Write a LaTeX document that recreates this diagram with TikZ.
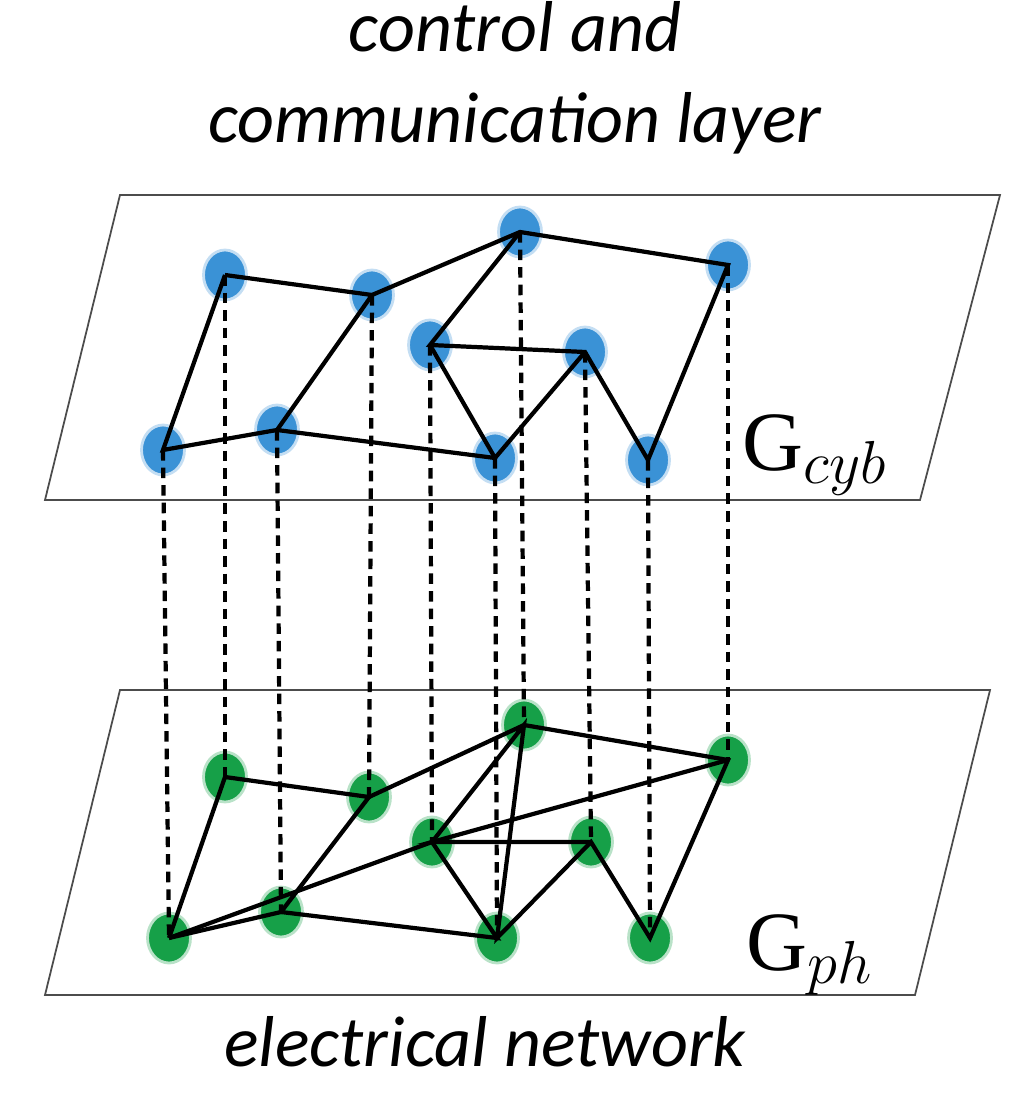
\documentclass[tikz,border=0pt]{standalone}
\usepackage{fontspec}
\setmainfont{Carlito}
\newfontfamily\gfont{Liberation Serif}
\definecolor{cybblue}{RGB}{58,146,214}
\definecolor{phgreen}{RGB}{22,160,72}
\begin{document}
\begin{tikzpicture}[x=0.1mm,y=-0.1mm,
	cyb/.style={ellipse,fill=cybblue,minimum width=4.3mm,minimum height=5mm,inner sep=0,draw=cybblue!30,line width=0.8pt},
	ph/.style={ellipse,fill=phgreen,minimum width=4.3mm,minimum height=5mm,inner sep=0,draw=phgreen!30,line width=0.8pt},
	link/.style={line width=1.2pt},
	tie/.style={line width=1.2pt,dash pattern=on 3pt off 2pt},
	layer/.style={draw=black!70,line width=0.5pt}]
\usetikzlibrary{shapes.geometric}
\useasboundingbox (0,0) rectangle (1030,1100);
% layers
\draw [layer] (120,195) -- (1000,195) -- (920,500) -- (45,500) -- cycle;
\draw [layer] (120,690) -- (990,690) -- (915,995) -- (45,995) -- cycle;
% control layer nodes
\node [cyb] (c1) at (225,275) {};
\node [cyb] (c2) at (372,295) {};
\node [cyb] (c3) at (520,232) {};
\node [cyb] (c4) at (728,265) {};
\node [cyb] (c5) at (430,345) {};
\node [cyb] (c6) at (585,352) {};
\node [cyb] (c7) at (163,450) {};
\node [cyb] (c8) at (277,430) {};
\node [cyb] (c9) at (495,458) {};
\node [cyb] (c10) at (648,460) {};
% electrical nodes
\node [ph] (p1) at (225,777) {};
\node [ph] (p2) at (369,797) {};
\node [ph] (p3) at (524,725) {};
\node [ph] (p4) at (728,760) {};
\node [ph] (p5) at (432,842) {};
\node [ph] (p6) at (591,842) {};
\node [ph] (p7) at (169,938) {};
\node [ph] (p8) at (281,912) {};
\node [ph] (p9) at (497,938) {};
\node [ph] (p10) at (650,938) {};
% ties between layers
\foreach \i in {1,...,10}
	\draw [tie] (c\i.center) -- (p\i.center);
% control links
\draw [link] (c1.center) -- (c2.center) -- (c8.center) -- (c7.center) -- (c1.center);
\draw [link] (c2.center) -- (c3.center) -- (c4.center) -- (c10.center) -- (c6.center) -- (c5.center) -- (c3.center);
\draw [link] (c5.center) -- (c9.center) -- (c6.center);
\draw [link] (c8.center) -- (c9.center);
% electrical links
\draw [link] (p7.center) -- (p1.center) -- (p2.center) -- (p8.center) -- (p7.center);
\draw [link] (p2.center) -- (p3.center) -- (p4.center) -- (p10.center) -- (p6.center) -- (p9.center) -- (p3.center) -- (p5.center) -- (p7.center);
\draw [link] (p4.center) -- (p5.center) -- (p6.center);
\draw [link] (p5.center) -- (p9.center) -- (p8.center);
% labels
\node (top) at (515,78) [align=center,font=\fontsize{20.5}{26}\selectfont\itshape] {control and\\communication layer};
\node (bottom) at (485,1042) [font=\fontsize{20.5}{26}\selectfont\itshape] {electrical network};
\node (gcyb) at (815,455) [font=\fontsize{24}{29}\selectfont] {{\gfont G}$_{cyb}$};
\node (gph) at (810,955) [font=\fontsize{24}{29}\selectfont] {{\gfont G}$_{ph}$};
\end{tikzpicture}
\end{document}
